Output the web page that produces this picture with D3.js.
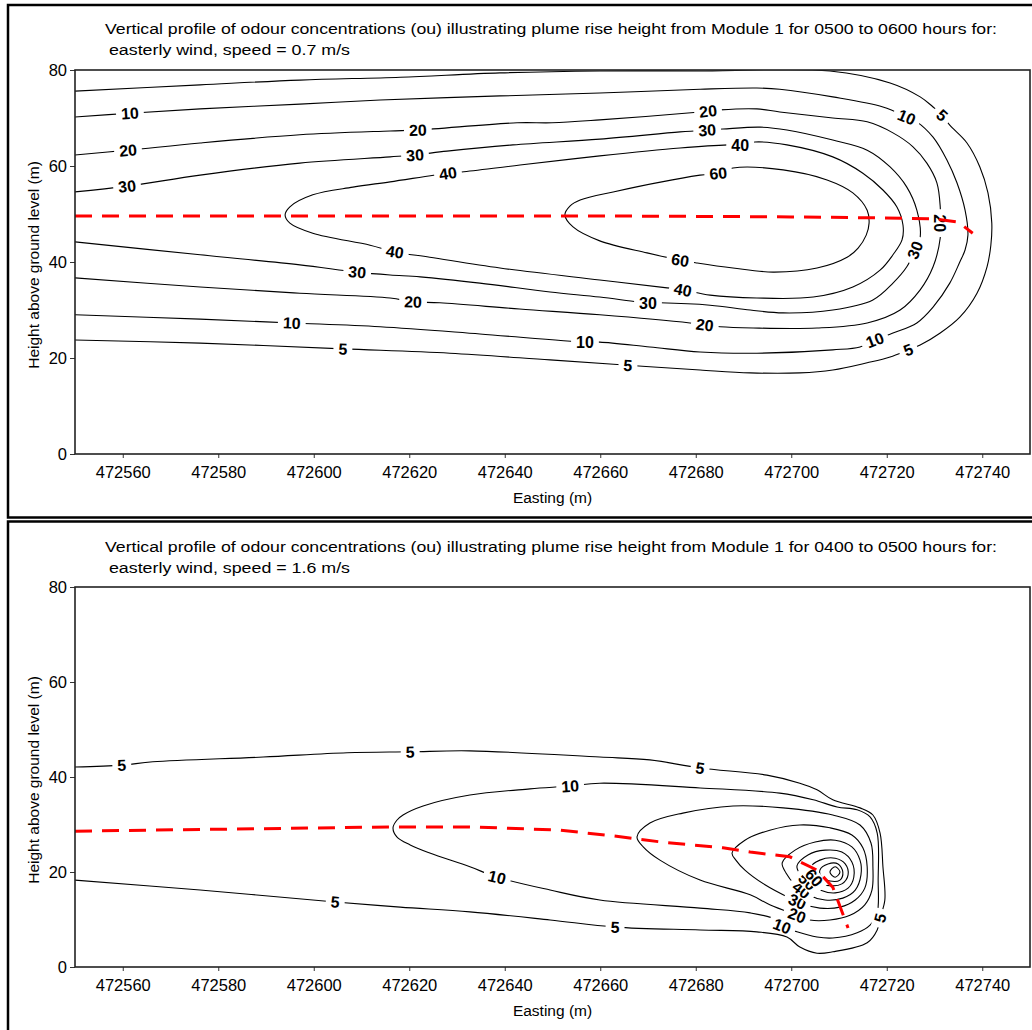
<!DOCTYPE html>
<html><head><meta charset="utf-8">
<script src="https://cdn.jsdelivr.net/npm/d3@7"></script>
<style>
body{margin:0;background:#fff}
svg{display:block}
text{font-family:"Liberation Sans",Arial,sans-serif;fill:#000}
</style>
</head><body>
<svg id="chart" width="1032" height="1030"></svg>
<script>
// ---------------- DATA ----------------
const xDomain = [472550, 472750];
const yDomain = [0, 80];
const xTickValues = [472560, 472580, 472600, 472620, 472640, 472660, 472680, 472700, 472720, 472740];
const yTickValues = [0, 20, 40, 60, 80];
const xAxisTitle = "Easting (m)";
const yAxisTitle = "Height above ground level (m)";

const topTitle1 = "Vertical profile of odour concentrations (ou) illustrating plume rise height from Module 1 for 0500 to 0600 hours for:";
const topTitle2 = " easterly wind, speed = 0.7 m/s";
const bottomTitle1 = "Vertical profile of odour concentrations (ou) illustrating plume rise height from Module 1 for 0400 to 0500 hours for:";
const bottomTitle2 = " easterly wind, speed = 1.6 m/s";

// Top panel contours [easting, height]
const top5 = [[472550.0,75.6],[472576.2,76.9],[472597.1,77.9],[472618.1,78.5],[472639.0,79.4],[472659.9,79.8],[472680.9,79.8],[472708.1,79.8],[472720.7,77.3],[472727.0,74.4],[472729.7,72.3],[472731.6,70.6],[472733.2,68.5],[472736.8,64.8],[472739.5,59.8],[472741.2,54.4],[472742.0,48.1],[472741.8,43.5],[472741.0,39.0],[472738.9,33.5],[472735.3,28.5],[472731.2,25.2],[472727.0,22.7],[472724.5,21.7],[472720.7,20.2],[472715.9,19.0],[472708.7,17.5],[472701.8,16.9],[472691.4,16.9],[472680.9,17.5],[472665.8,18.5],[472649.5,19.6],[472628.5,21.0],[472606.1,21.9],[472576.2,23.1],[472550.0,23.75]];
const top10 = [[472550.0,70.2],[472561.5,71.0],[472576.2,71.9],[472597.1,72.9],[472613.9,73.75],[472639.0,74.6],[472659.9,75.2],[472680.9,76.0],[472692.8,76.25],[472697.6,76.0],[472708.7,74.4],[472719.2,72.3],[472724.2,70.2],[472726.3,69.2],[472729.7,66.0],[472732.6,61.25],[472734.7,56.5],[472736.4,50.8],[472737.0,45.6],[472736.4,42.5],[472735.3,40.0],[472733.2,35.6],[472729.7,30.6],[472726.3,27.3],[472721.3,25.2],[472717.5,23.75],[472714.4,22.3],[472708.7,21.7],[472692.8,21.0],[472680.9,21.25],[472670.4,22.3],[472659.9,23.3],[472656.8,23.3],[472634.8,25.0],[472613.9,26.5],[472595.4,27.3],[472576.2,28.1],[472550.0,29.0]];
const top20 = [[472550.0,62.3],[472561.1,63.3],[472576.2,64.8],[472597.1,66.5],[472616.0,67.3],[472621.8,67.5],[472642.6,69.0],[472649.9,69.0],[472659.9,69.6],[472680.9,71.25],[472685.1,71.7],[472692.8,71.9],[472697.6,71.25],[472708.7,70.0],[472715.9,69.2],[472721.3,66.9],[472725.5,64.0],[472728.4,60.6],[472730.5,56.5],[472731.2,51.5],[472731.2,48.1],[472731.2,45.0],[472729.7,39.0],[472727.0,34.2],[472722.8,30.0],[472715.9,27.3],[472705.4,26.25],[472692.0,26.25],[472685.1,26.5],[472681.9,26.9],[472678.8,27.3],[472659.9,29.0],[472643.1,30.2],[472626.4,31.5],[472620.8,31.7],[472616.0,32.5],[472597.1,33.5],[472576.2,34.8],[472550.0,36.7]];
const top30 = [[472550.0,54.6],[472560.9,55.8],[472576.2,58.1],[472597.1,60.6],[472616.0,61.9],[472621.2,62.3],[472627.9,63.1],[472641.7,64.4],[472659.9,65.6],[472676.7,67.1],[472682.4,67.5],[472685.7,67.7],[472693.5,68.1],[472699.1,67.5],[472708.7,65.4],[472715.9,63.3],[472720.7,59.8],[472724.2,55.6],[472726.3,50.8],[472727.0,45.2],[472725.9,42.5],[472724.2,39.0],[472721.3,35.6],[472717.1,32.1],[472708.7,30.0],[472698.3,29.4],[472691.4,30.0],[472683.0,31.0],[472672.5,31.5],[472670.0,31.5],[472667.7,31.7],[472659.9,32.7],[472649.5,33.75],[472634.8,35.6],[472622.3,36.9],[472616.0,37.3],[472609.1,37.9],[472597.1,39.4],[472576.2,41.5],[472550.0,44.2]];
const top40 = [[472594.0,49.8],[472595.0,51.5],[472599.8,54.0],[472608.2,55.6],[472616.0,56.7],[472628.1,58.5],[472631.0,58.75],[472643.2,60.2],[472659.9,62.1],[472676.7,63.75],[472686.8,64.4],[472689.3,64.4],[472692.4,65.0],[472699.1,64.4],[472708.7,61.9],[472715.0,58.5],[472719.2,55.0],[472722.1,51.5],[472723.4,47.7],[472723.2,44.6],[472721.3,41.5],[472718.6,38.3],[472712.9,34.8],[472704.6,32.7],[472692.8,32.5],[472683.0,33.1],[472677.3,34.2],[472674.0,34.6],[472659.9,36.25],[472639.0,38.75],[472624.3,41.0],[472617.0,42.1],[472611.8,43.5],[472599.8,46.0],[472595.0,48.1]];
const top60 = [[472652.6,49.8],[472653.7,51.7],[472655.8,52.9],[472662.7,54.6],[472680.9,58.1],[472684.7,58.5],[472687.8,59.6],[472698.3,59.2],[472707.5,57.1],[472712.9,54.4],[472715.9,50.8],[472716.3,48.1],[472715.7,45.6],[472714.0,42.9],[472711.7,41.0],[472705.4,38.75],[472696.2,37.9],[472687.8,38.75],[472680.3,39.8],[472676.7,40.4],[472669.8,41.9],[472659.9,44.4],[472654.3,47.3]];
const topPlume = [[472550,49.6],[472660,49.6],[472700,49.4],[472718,49.2],[472730,49.0],[472735,48.3],[472738,46.0]];
// labels [level, easting, height]
const topLabels = [
  [10,472561.5,71.0],[10,472724.2,70.2],[10,472595.4,27.3],[10,472656.8,23.3],[10,472717.5,23.75],
  [5,472731.6,70.6],[5,472724.5,21.7],[5,472665.8,18.5],[5,472606.1,21.9],
  [20,472561.1,63.3],[20,472621.8,67.5],[20,472682.6,71.25],[20,472731.2,48.1],[20,472620.8,31.7],[20,472681.9,26.9],
  [30,472560.9,55.8],[30,472621.2,62.3],[30,472682.4,67.5],[30,472725.9,42.5],[30,472670.0,31.5],[30,472609.1,37.9],
  [40,472628.1,58.5],[40,472689.3,64.4],[40,472617.0,42.1],[40,472677.3,34.2],
  [60,472684.7,58.5],[60,472676.7,40.0]
];

// Bottom panel contours
const bot5 = [[472550.0,42.1],[472559.8,42.5],[472566.3,43.2],[472589.4,44.2],[472607.0,45.1],[472620.2,45.3],[472632.7,45.5],[472659.9,44.2],[472670.4,43.6],[472680.9,41.9],[472694.9,40.4],[472701.8,38.7],[472705.4,37.3],[472708.7,35.2],[472714.4,33.5],[472717.1,32.0],[472718.6,28.2],[472719.2,21.1],[472719.6,14.1],[472718.6,10.3],[472718.0,7.8],[472715.9,5.1],[472708.7,3.2],[472705.4,2.9],[472701.8,4.2],[472699.1,6.3],[472692.8,7.4],[472680.9,7.8],[472663.1,8.4],[472649.5,9.9],[472632.7,11.6],[472618.1,12.6],[472604.5,13.7],[472576.2,16.2],[472550.0,18.3]];
const bot10 = [[472616.6,29.3],[472617.4,30.9],[472618.7,32.0],[472622.9,33.9],[472632.7,36.2],[472645.3,37.5],[472653.7,38.1],[472659.9,38.7],[472680.9,37.7],[472697.6,36.6],[472704.6,35.2],[472709.6,33.7],[472713.8,33.1],[472716.5,31.6],[472718.0,28.2],[472718.2,18.3],[472718.0,11.4],[472716.5,8.8],[472713.8,7.2],[472708.7,6.1],[472705.4,6.3],[472701.2,7.4],[472698.1,8.6],[472697.0,9.9],[472691.4,11.4],[472680.9,12.4],[472659.9,14.1],[472649.5,16.2],[472638.4,18.9],[472632.7,21.1],[472624.3,24.0],[472620.2,25.7],[472617.4,27.4]];
const bot20 = [[472667.7,27.4],[472670.4,30.3],[472677.3,32.4],[472687.8,33.9],[472698.3,33.5],[472708.7,32.0],[472714.4,29.9],[472716.7,26.1],[472717.1,21.1],[472716.9,16.2],[472715.4,13.1],[472712.3,10.9],[472708.1,9.9],[472703.9,9.9],[472701.2,10.9],[472695.5,13.1],[472691.4,15.2],[472680.9,18.3],[472672.5,22.5],[472669.0,25.3]];
const bot30 = [[472687.6,24.0],[472690.3,26.7],[472695.5,28.8],[472701.8,29.9],[472708.1,29.3],[472712.7,27.8],[472715.0,25.1],[472715.9,21.1],[472715.4,16.6],[472713.4,14.1],[472710.2,12.6],[472706.0,12.4],[472702.9,13.1],[472699.7,14.5],[472694.5,17.3],[472690.3,20.4],[472688.4,22.5]];
const bot40 = [[472698.1,21.9],[472700.8,24.6],[472705.0,26.3],[472709.2,26.7],[472712.7,25.3],[472714.4,22.5],[472714.6,19.4],[472713.4,16.2],[472710.8,14.5],[472707.1,14.1],[472703.5,15.2],[472700.8,17.3],[472698.9,19.8]];
const bot50 = [[472701.2,21.3],[472703.5,23.6],[472707.1,24.6],[472710.6,24.2],[472712.7,22.1],[472713.1,18.9],[472711.9,16.6],[472709.2,15.6],[472706.0,16.2],[472703.5,17.9],[472701.8,19.6]];
const bot60 = [[472703.9,20.8],[472706.0,22.5],[472709.2,22.9],[472711.3,21.7],[472711.9,19.4],[472710.6,17.5],[472708.1,17.1],[472705.6,17.9],[472704.3,19.4]];
const bot70 = [[472706.0,20.4],[472707.7,21.7],[472709.8,21.7],[472710.8,20.0],[472710.2,18.3],[472708.1,18.1],[472706.4,18.9]];
const bot80 = [[472708.1,20.0],[472709.2,21.1],[472710.2,20.0],[472709.2,18.9]];
const botPlume = [[472550.0,28.6],[472617.4,29.5],[472632.7,29.5],[472651.6,28.8],[472662.7,27.6],[472672.9,26.3],[472685.7,25.1],[472691.4,24.2],[472699.7,23.2],[472705.4,20.4],[472708.7,16.8],[472711.9,8.2]];
const bottomLabels = [
  [5,472559.8,42.5],[5,472620.2,45.3],[5,472680.9,41.9],[5,472604.5,13.7],[5,472663.1,8.4],[5,472718.6,10.3],
  [10,472653.7,38.1],[10,472638.4,18.9],[10,472698.1,8.6],
  [20,472701.2,10.9],[30,472701.2,13.6],[40,472702.0,16.0],[50,472703.0,17.6],[60,472705.0,19.0]
];

// ---------------- DRAWING ----------------
const svg = d3.select("#chart");

const panels = [
  {
    box: {x: 8, y: 5, w: 1040, h: 512.5},
    plot: {l: 75, r: 1030, t: 70, b: 454},
    title: [topTitle1, topTitle2], titleY: [34, 55],
    contours: [
      {level: 5, pts: top5, closed: false},
      {level: 10, pts: top10, closed: false},
      {level: 20, pts: top20, closed: false},
      {level: 30, pts: top30, closed: false},
      {level: 40, pts: top40, closed: true},
      {level: 60, pts: top60, closed: true}
    ],
    labels: topLabels, plume: topPlume
  },
  {
    box: {x: 8, y: 521.5, w: 1040, h: 520},
    plot: {l: 75, r: 1030, t: 587, b: 967},
    title: [bottomTitle1, bottomTitle2], titleY: [552, 573],
    contours: [
      {level: 5, pts: bot5, closed: false},
      {level: 10, pts: bot10, closed: true},
      {level: 20, pts: bot20, closed: true},
      {level: 30, pts: bot30, closed: true},
      {level: 40, pts: bot40, closed: true},
      {level: 50, pts: bot50, closed: true},
      {level: 60, pts: bot60, closed: true},
      {level: 70, pts: bot70, closed: true},
      {level: 80, pts: bot80, closed: true}
    ],
    labels: bottomLabels, plume: botPlume
  }
];

panels.forEach((p, pi) => {
  const g = svg.append("g");
  // panel border
  g.append("rect").attr("x", p.box.x).attr("y", p.box.y)
    .attr("width", p.box.w).attr("height", p.box.h)
    .attr("fill", "none").attr("stroke", "#000").attr("stroke-width", 2.5);

  const x = d3.scaleLinear().domain(xDomain).range([p.plot.l, p.plot.r]);
  const y = d3.scaleLinear().domain(yDomain).range([p.plot.b, p.plot.t]);

  // titles
  g.append("text").attr("x", 105).attr("y", p.titleY[0])
    .attr("font-size", 15.5).attr("textLength", 892).attr("lengthAdjust", "spacingAndGlyphs")
    .text(p.title[0]);
  g.append("text").attr("x", 104).attr("y", p.titleY[1])
    .attr("font-size", 15.5).attr("textLength", 246).attr("lengthAdjust", "spacingAndGlyphs")
    .attr("xml:space", "preserve")
    .text(p.title[1]);

  // axes
  const xAxis = d3.axisBottom(x).tickValues(xTickValues).tickSize(4).tickPadding(5).tickFormat(d3.format("d"));
  const gx = g.append("g").attr("transform", `translate(0,${p.plot.b})`).call(xAxis);
  gx.select(".domain").remove();
  gx.selectAll("text").attr("font-size", 16.5).attr("font-family", '"Liberation Sans",Arial,sans-serif').attr("dy", "0.9em");
  gx.selectAll("line").attr("stroke", "#333");

  const yAxis = d3.axisLeft(y).tickValues(yTickValues).tickSize(5).tickPadding(3);
  const gy = g.append("g").attr("transform", `translate(${p.plot.l},0)`).call(yAxis);
  gy.select(".domain").remove();
  gy.selectAll("text").attr("font-size", 16.5).attr("font-family", '"Liberation Sans",Arial,sans-serif');
  gy.selectAll("line").attr("stroke", "#333");

  // axis titles
  g.append("text").attr("x", (p.plot.l + p.plot.r) / 2).attr("y", p.plot.b + 49)
    .attr("text-anchor", "middle").attr("font-size", 15.5).text(xAxisTitle);
  g.append("text").attr("transform", `translate(39,${(p.plot.t + p.plot.b) / 2 + 3}) rotate(-90)`)
    .attr("text-anchor", "middle").attr("font-size", 15.5).text(yAxisTitle);

  // clip
  const clipId = "clip" + pi;
  svg.append("clipPath").attr("id", clipId).append("rect")
    .attr("x", p.plot.l).attr("y", p.plot.t).attr("width", p.plot.r - p.plot.l).attr("height", p.plot.b - p.plot.t);
  const pg = g.append("g").attr("clip-path", `url(#${clipId})`);

  const lineOpen = d3.line().x(d => x(d[0])).y(d => y(d[1])).curve(d3.curveCatmullRom.alpha(0.5));
  const lineClosed = d3.line().x(d => x(d[0])).y(d => y(d[1])).curve(d3.curveCatmullRomClosed.alpha(0.5));

  pg.selectAll("path.contour").data(p.contours).join("path")
    .attr("class", "contour")
    .attr("d", c => (c.closed ? lineClosed : lineOpen)(c.pts))
    .attr("fill", "none").attr("stroke", "#000").attr("stroke-width", 1.1);

  // labels
  p.labels.forEach(([lvl, e, h]) => {
    const px = x(e), py = y(h);
    let best = null;
    p.contours.filter(c => c.level === lvl).forEach(c => {
      const P = c.pts.map(d => [x(d[0]), y(d[1])]);
      if (c.closed) P.push(P[0]);
      for (let i = 0; i < P.length - 1; i++) {
        const a = P[i], b = P[i + 1];
        const dx = b[0] - a[0], dy = b[1] - a[1];
        const L2 = dx * dx + dy * dy || 1;
        let t = ((px - a[0]) * dx + (py - a[1]) * dy) / L2;
        t = Math.max(0, Math.min(1, t));
        const q = [a[0] + t * dx, a[1] + t * dy];
        const d2 = (q[0] - px) ** 2 + (q[1] - py) ** 2;
        if (!best || d2 < best.d2) best = {d2, q, ang: Math.atan2(dy, dx) * 180 / Math.PI};
      }
    });
    if (!best) return;
    let ang = best.ang;
    if (ang > 90) ang -= 180;
    if (ang < -90) ang += 180;
    const lg = pg.append("g").attr("transform", `translate(${best.q[0]},${best.q[1]}) rotate(${ang})`);
    const r = lg.append("rect").attr("fill", "#fff");
    const t = lg.append("text").attr("text-anchor", "middle").attr("dy", "0.36em")
      .attr("font-size", 16).attr("font-weight", "bold").text(lvl);
    const w = t.node().getComputedTextLength();
    r.attr("x", -w / 2 - 5).attr("y", -7).attr("width", w + 10).attr("height", 14);
  });

  // plume centreline
  pg.append("path").datum(p.plume)
    .attr("d", d3.line().x(d => x(d[0])).y(d => y(d[1])))
    .attr("fill", "none").attr("stroke", "#ff0000").attr("stroke-width", 3)
    .attr("stroke-dasharray", "17,10");

  // plot frame
  g.append("rect").attr("x", p.plot.l).attr("y", p.plot.t)
    .attr("width", p.plot.r - p.plot.l).attr("height", p.plot.b - p.plot.t)
    .attr("fill", "none").attr("stroke", "#222").attr("stroke-width", 1.6);
});
</script>
</body></html>
